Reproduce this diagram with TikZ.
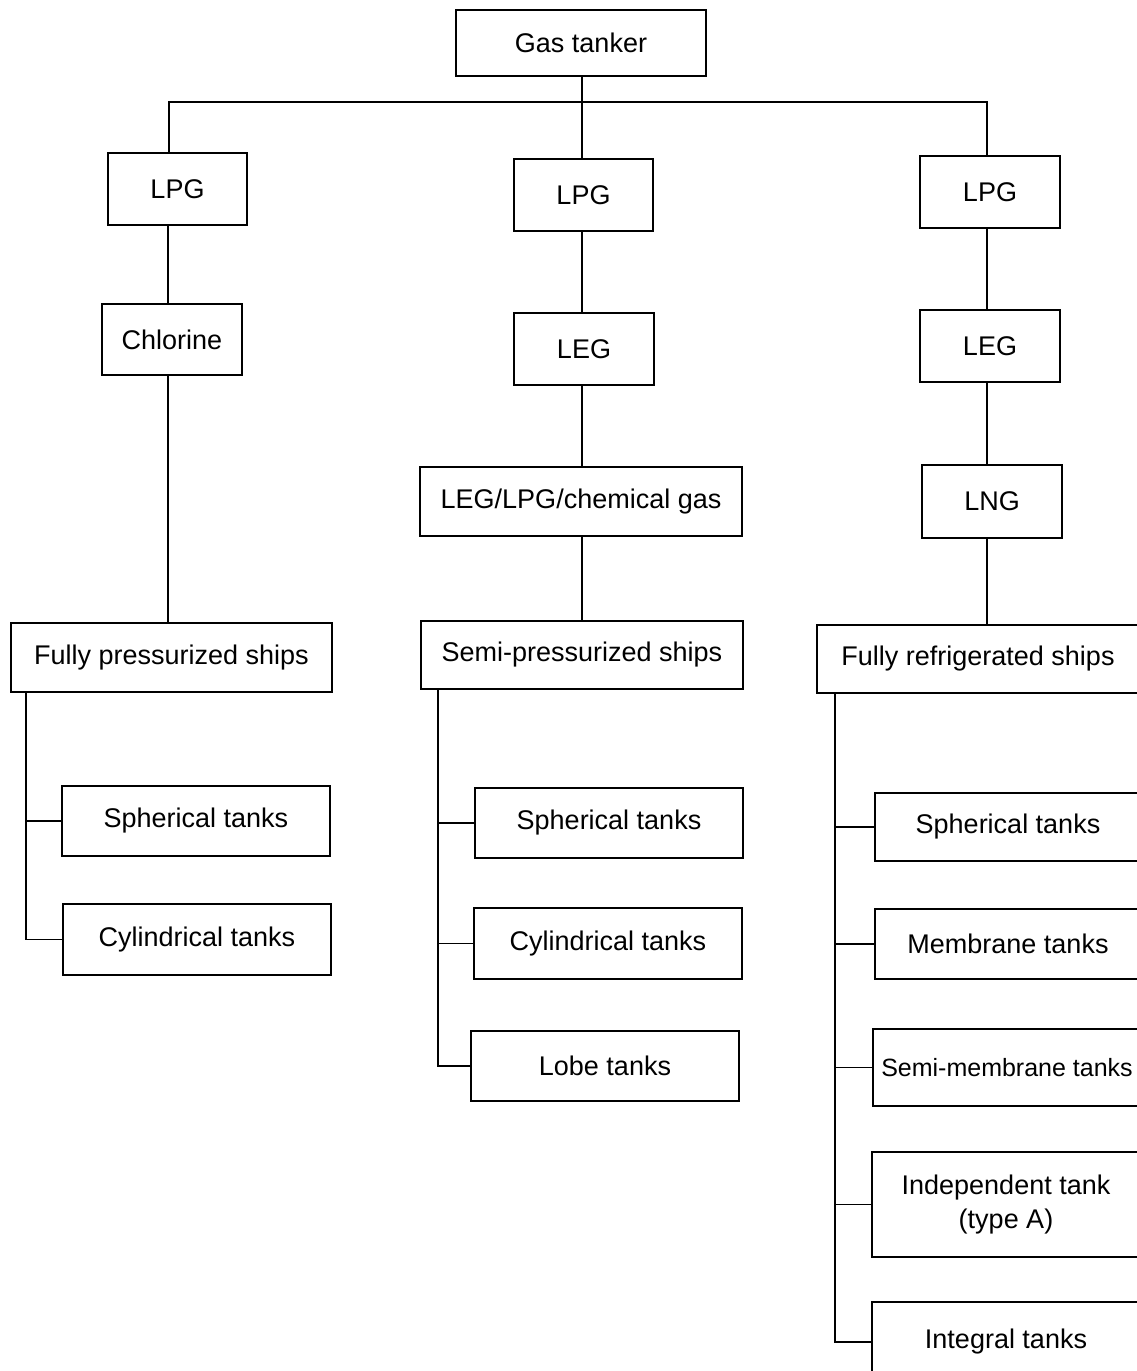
\documentclass[tikz,border=0pt]{standalone}
\usepackage{fontspec}
\setmainfont{Liberation Sans}
\begin{document}
\begin{tikzpicture}[x=1pt,y=-1pt,
  box/.style={draw, line width=1.3pt, rectangle, inner sep=0pt, align=center,
    font=\fontsize{27}{34}\selectfont},
  conn/.style={line width=1.4pt}]
\useasboundingbox (0,0) rectangle (1136,1371);
% top
\node[box, minimum width=250, minimum height=66] (gas) at (581,43) {Gas tanker};
% left column
\node[box, minimum width=139, minimum height=72] (lpgL) at (177.5,189) {LPG};
\node[box, minimum width=140, minimum height=71] (chl) at (172,339.5) {Chlorine};
\node[box, minimum width=321, minimum height=69] (fp) at (171.5,657.5) {Fully pressurized ships};
\node[box, minimum width=268, minimum height=70] (sphL) at (196,821) {Spherical tanks};
\node[box, minimum width=268, minimum height=71] (cylL) at (197,939.5) {Cylindrical tanks};
% middle column
\node[box, minimum width=139, minimum height=72] (lpgM) at (583.5,195) {LPG};
\node[box, minimum width=140, minimum height=72] (legM) at (584,349) {LEG};
\node[box, minimum width=322, minimum height=69] (chem) at (581,501.5) {LEG/LPG/chemical gas};
\node[box, minimum width=322, minimum height=68] (sp) at (582,655) {Semi-pressurized ships};
\node[box, minimum width=268, minimum height=70] (sphM) at (609,823) {Spherical tanks};
\node[box, minimum width=268, minimum height=71] (cylM) at (608,943.5) {Cylindrical tanks};
\node[box, minimum width=268, minimum height=70] (lobe) at (605,1066) {Lobe tanks};
% right column
\node[box, minimum width=140, minimum height=72] (lpgR) at (990,192) {LPG};
\node[box, minimum width=140, minimum height=72] (legR) at (990,346) {LEG};
\node[box, minimum width=140, minimum height=73] (lng) at (992,501.5) {LNG};
\node[box, minimum width=322, minimum height=68] (fr) at (978,659) {Fully refrigerated ships};
\node[box, minimum width=266, minimum height=68] (sphR) at (1008,827) {Spherical tanks};
\node[box, minimum width=266, minimum height=70] (mem) at (1008,944) {Membrane tanks};
\node[box, minimum width=268, minimum height=77, font=\fontsize{25}{30}\selectfont] (smem) at (1007,1067.5) {Semi-membrane tanks};
\node[box, minimum width=268, minimum height=105] (ind) at (1006,1204.5) {Independent tank\\(type A)};
\node[box, minimum width=268, minimum height=80] (integ) at (1006,1342) {Integral tanks};
% junction coordinates
\coordinate (hl) at (169,102);
\coordinate (hm) at (582,102);
\coordinate (hr) at (987,102);
\coordinate (cl) at (168,0);
\coordinate (cm) at (582,0);
\coordinate (tL) at (26,0);
\coordinate (tM) at (438,0);
\coordinate (tR) at (835,0);
% top connectors
\draw[conn] (gas.south -| hm) -- (hm);
\draw[conn] (lpgL.north -| hl) -- (hl) -- (hr) -- (lpgR.north -| hr);
\draw[conn] (hm) -- (lpgM.north -| hm);
% left column connectors
\draw[conn] (lpgL.south -| cl) -- (chl.north -| cl);
\draw[conn] (chl.south -| cl) -- (fp.north -| cl);
\draw[conn] (fp.south -| tL) |- (cylL.west);
\draw[conn] (sphL.west) -- (sphL.west -| tL);
% middle column connectors
\draw[conn] (lpgM.south -| cm) -- (legM.north -| cm);
\draw[conn] (legM.south -| cm) -- (chem.north -| cm);
\draw[conn] (chem.south -| cm) -- (sp.north -| cm);
\draw[conn] (sp.south -| tM) |- (lobe.west);
\draw[conn] (sphM.west) -- (sphM.west -| tM);
\draw[conn] (cylM.west) -- (cylM.west -| tM);
% right column connectors
\draw[conn] (lpgR.south -| hr) -- (legR.north -| hr);
\draw[conn] (legR.south -| hr) -- (lng.north -| hr);
\draw[conn] (lng.south -| hr) -- (fr.north -| hr);
\draw[conn] (fr.south -| tR) |- (integ.west);
\draw[conn] (sphR.west) -- (sphR.west -| tR);
\draw[conn] (mem.west) -- (mem.west -| tR);
\draw[conn] (smem.west) -- (smem.west -| tR);
\draw[conn] (ind.west) -- (ind.west -| tR);
\end{tikzpicture}
\end{document}
